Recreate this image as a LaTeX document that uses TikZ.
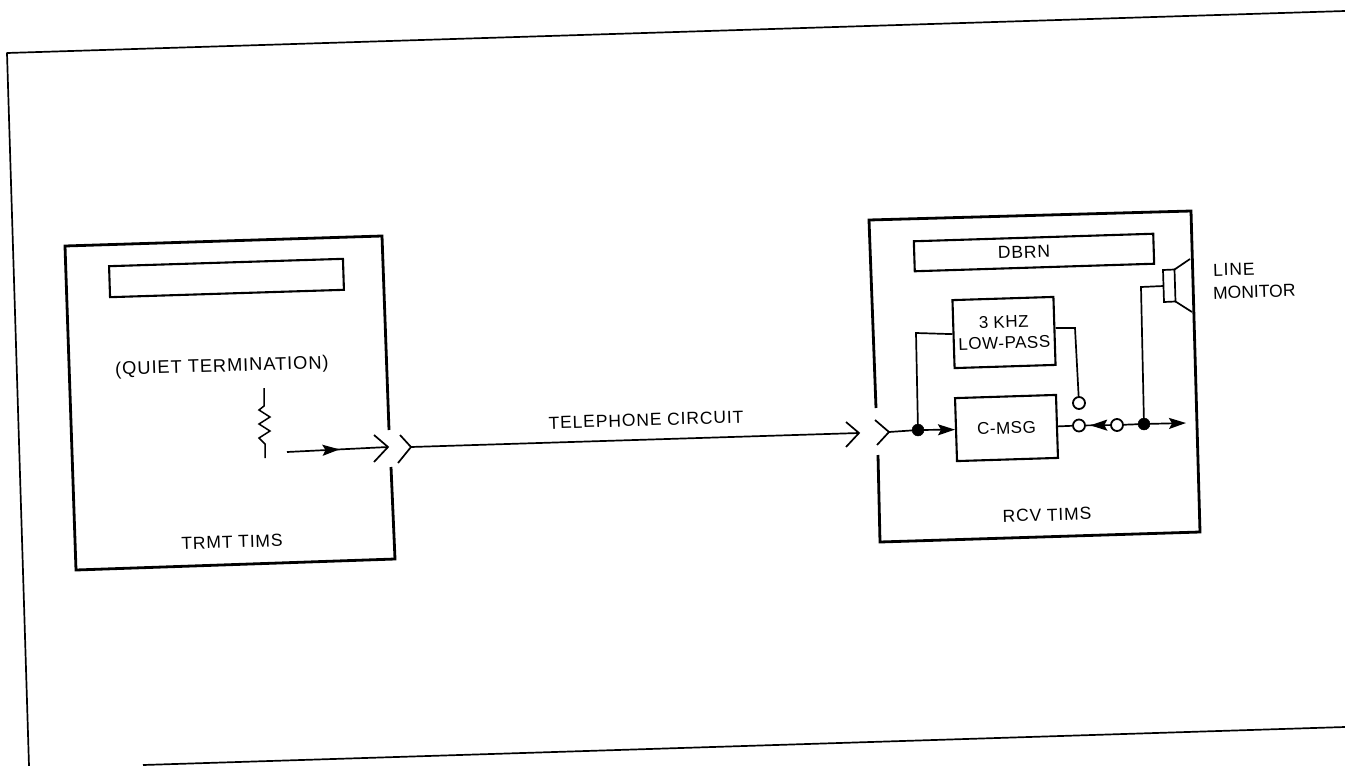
\documentclass[tikz,border=0pt]{standalone}
\usepackage{fontspec}
\setmainfont{Liberation Sans}
\newfontfamily\lblfont[LetterSpace=5]{Liberation Sans}
\newfontfamily\blkfont[LetterSpace=3]{Liberation Sans}
\usetikzlibrary{arrows.meta,decorations.markings}
\tikzset{
  x=1pt,y=-1pt,
  frameline/.style={line width=1.7pt,black,line join=round},
  unitline/.style={line width=2.8pt,black,line join=miter},
  wire/.style={line width=1.7pt,black,line join=miter},
  block/.style={draw=black,line width=2.1pt,rotate=1.8,inner sep=0pt,align=center,
     font=\blkfont\fontsize{17}{20}\selectfont,text=black},
  lbl/.style={rotate=1.8,inner sep=0pt,align=center,font=\lblfont\fontsize{17.5}{20}\selectfont,text=black},
  fulldot/.style={circle,fill=black,draw=black,minimum size=12pt,inner sep=0pt},
  opendot/.style={circle,draw=black,line width=1.8pt,fill=white,minimum size=12pt,inner sep=0pt},
  endhead/.style={-{Stealth[length=17pt,width=11pt,inset=3pt]}},
  midhead/.style={postaction={decorate},decoration={markings,mark=at position #1 with {\arrow{Stealth[length=17pt,width=11pt,inset=3pt]}}}},
}
\begin{document}
\begin{tikzpicture}
\useasboundingbox (0,0) rectangle (1345,766);
\fill[white] (0,0) rectangle (1345,766);

% outer frame
\coordinate (fTR) at (1345,11);
\coordinate (fTL) at (7,53);
\coordinate (fBL) at (29,766);
\coordinate (fBa) at (143,765);
\coordinate (fBb) at (1345,727);
\draw[frameline] (fTR) -- (fTL) -- (fBL);
\draw[frameline] (fBa) -- (fBb);

% TRMT unit
\coordinate (tTL) at (65,246);
\coordinate (tTR) at (382,236);
\coordinate (tBR) at (395,559);
\coordinate (tBL) at (76,570);
\coordinate (tGapA) at (389,430);
\coordinate (tGapB) at (391,467);
\draw[unitline] (tGapA) -- (tTR) -- (tTL) -- (tBL) -- (tBR) -- (tGapB);
\node[block,minimum width=234pt,minimum height=31pt] (tdisp) at (226.5,278) {};
\node[lbl,font=\lblfont\fontsize{18.3}{20}\selectfont] (quiet) at (222,367) {(QUIET TERMINATION)};
\node[lbl] (trmt) at (232,542) {TRMT TIMS};

% resistor
\coordinate (rA) at (264,388);
\coordinate (rB) at (265,458);
\draw[wire,line width=1.5pt] (rA) -- (264,406) -- (259,410) -- (270,417) -- (259,424) -- (270,431) -- (259,438) -- (265,444) -- (rB);

% transmit output
\coordinate (tOut) at (287,452);
\coordinate (jA) at (388,447);
\coordinate (jAa) at (374,435);
\coordinate (jAb) at (374,462);
\draw[wire,midhead=.52] (tOut) -- (jA);
\draw[wire] (jAa) -- (jA) -- (jAb);

% telephone circuit
\coordinate (jB) at (411,447);
\coordinate (jBa) at (400,435);
\coordinate (jBb) at (398,463);
\coordinate (jC) at (859,433);
\coordinate (jCa) at (846,422);
\coordinate (jCb) at (846,447);
\draw[wire] (jBa) -- (jB) -- (jBb);
\draw[wire] (jB) -- (jC);
\draw[wire] (jCa) -- (jC) -- (jCb);
\node[lbl] (tel) at (646,420) {TELEPHONE CIRCUIT};

% RCV unit
\coordinate (rTL) at (869,220);
\coordinate (rTR) at (1191,211);
\coordinate (rBR) at (1200,532);
\coordinate (rBL) at (880,542);
\coordinate (rGapA) at (876,408);
\coordinate (rGapB) at (878,455);
\draw[unitline] (rGapA) -- (rTL) -- (rTR) -- (rBR) -- (rBL) -- (rGapB);
\node[block,minimum width=239.5pt,minimum height=30pt] (rdisp) at (1034,252.5) {};
\node[lbl] (dbrn) at (1024,252) {DBRN};
\node[block,minimum width=101pt,minimum height=68pt] (lp) at (1004,332.5) {3 KHZ\\[1pt]LOW-PASS};
\node[block,minimum width=101pt,minimum height=63pt] (cm) at (1006.5,428) {C-MSG};
\node[lbl] (rcv) at (1047,515) {RCV TIMS};
\node[lbl,rotate=0,anchor=west] (line) at (1213,270) {LINE};
\node[lbl,rotate=0,anchor=west,font=\fontsize{17.5}{20}\selectfont] (mon) at (1213,293) {MONITOR};

% receive chevron
\coordinate (jD) at (889,432);
\coordinate (jDa) at (875,420);
\coordinate (jDb) at (877,445);
\draw[wire] (jDa) -- (jD) -- (jDb);

% receive signal path
\node[fulldot] (d1) at (918,430) {};
\node[opendot] (c0) at (1079,403) {};
\node[opendot] (c1) at (1079,425.5) {};
\node[opendot] (c2) at (1117,425) {};
\node[fulldot] (d3) at (1144,424) {};
\coordinate (lpCorner) at (916,333);
\coordinate (lpOutB) at (1075,328);
\coordinate (rOut) at (1186,423);
\coordinate (spkCorner) at (1141,287);
\draw[wire] (jD) -- (d1);
\draw[wire,endhead] (d1) -- (cm.west);
\draw[wire] (d1) -- (lpCorner) -- (lp.west);
\draw[wire] (lp.east |- lpOutB) -- (lpOutB) -- (c0);
\draw[wire] (cm.east) -- (c1);
\draw[wire,midhead=.82] (c2) -- (c1);
\draw[wire] (c2) -- (d3);
\draw[wire,endhead] (d3) -- (rOut);

% speaker
\coordinate (sA) at (1163,270);
\coordinate (sB) at (1174.5,269.5);
\coordinate (sC) at (1175.5,301.5);
\coordinate (sD) at (1164,302);
\coordinate (sE) at (1190,259);
\coordinate (sF) at (1192,312);
\coordinate (sIn) at (1163.5,286);
\draw[wire] (sA) -- (sB) -- (sC) -- (sD) -- cycle;
\draw[wire] (sB) -- (sE);
\draw[wire] (sC) -- (sF);
\draw[wire] (d3) -- (spkCorner) -- (sIn);
\end{tikzpicture}
\end{document}
